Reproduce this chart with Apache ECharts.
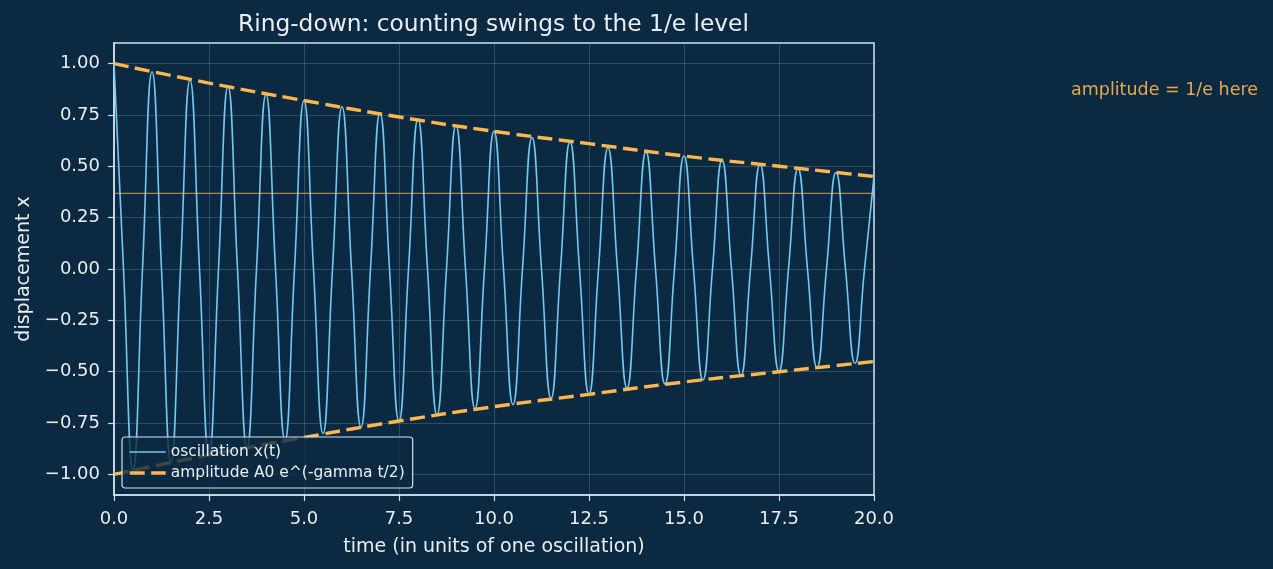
<!DOCTYPE html>
<html>
<head>
<meta charset="utf-8">
<title>Ring-down</title>
<script src="https://cdn.jsdelivr.net/npm/echarts@6/dist/echarts.min.js"></script>
<style>
html, body { margin: 0; padding: 0; background: #0b2a42; }
#ringdown { width: 1273px; height: 569px; }
</style>
</head>
<body>
<div id="ringdown"></div>
<script>
// swing maxima at whole cycles, minima at half cycles
var peakTimes = [0, 1, 2, 3, 4, 5, 6, 7, 8, 9, 10, 11, 12, 13, 14, 15, 16, 17, 18, 19, 20];
var peakValues = [1.00, 0.96, 0.92, 0.89, 0.85, 0.82, 0.79, 0.76, 0.73, 0.70, 0.67,
                  0.64, 0.62, 0.59, 0.57, 0.55, 0.53, 0.51, 0.49, 0.47, 0.45];
var troughTimes = [0.5, 1.5, 2.5, 3.5, 4.5, 5.5, 6.5, 7.5, 8.5, 9.5,
                   10.5, 11.5, 12.5, 13.5, 14.5, 15.5, 16.5, 17.5, 18.5, 19.5];
var troughValues = [-0.98, -0.94, -0.905, -0.87, -0.835, -0.80, -0.77, -0.74, -0.71, -0.68,
                    -0.66, -0.63, -0.61, -0.58, -0.56, -0.54, -0.52, -0.50, -0.48, -0.46];
// dashed envelope
var envelopeTimes = [0, 2.5, 5, 7.5, 10, 12.5, 15, 17.5, 20];
var envelopeValues = [1.00, 0.905, 0.82, 0.74, 0.67, 0.61, 0.55, 0.50, 0.45];
var oneOverE = 0.368;
var yTicks = [-1, -0.75, -0.5, -0.25, 0, 0.25, 0.5, 0.75, 1];

var oscillation = [];
for (var i = 0; i < peakTimes.length; i++) {
    oscillation.push([peakTimes[i], peakValues[i]]);
    if (i < troughTimes.length) {
        oscillation.push([(peakTimes[i] + troughTimes[i]) / 2, 0]);
        oscillation.push([troughTimes[i], troughValues[i]]);
        oscillation.push([(troughTimes[i] + peakTimes[i + 1]) / 2, 0]);
    }
}
var upper = envelopeTimes.map(function (t, k) { return [t, envelopeValues[k]]; });
var lower = envelopeTimes.map(function (t, k) { return [t, -envelopeValues[k]]; });

var fg = '#e8eef4';
var spine = '#cfe0f0';
var orange = '#ffb74d';
var blue = '#74c8f2';
var font = 'DejaVu Sans';
var envName = 'amplitude A0 e^(-gamma t/2)';

var chart = echarts.init(document.getElementById('ringdown'));
chart.setOption({
    backgroundColor: '#0b2a42',
    animation: false,
    title: {
        text: 'Ring-down: counting swings to the 1/e level',
        left: 233,
        top: 8,
        textStyle: { color: fg, fontSize: 23.3, fontWeight: 'normal', fontFamily: font }
    },
    grid: {
        left: 114, right: 399, top: 43, bottom: 74,
        show: true, borderColor: spine, borderWidth: 1.5
    },
    legend: {
        data: [
            { name: 'oscillation x(t)', lineStyle: { width: 1.6, type: 'solid' } },
            { name: envName, lineStyle: { width: 3.4, type: [15, 6.5] } }
        ],
        orient: 'vertical',
        left: 122,
        top: 437,
        itemWidth: 36,
        itemHeight: 14,
        itemGap: 5,
        padding: [7, 8, 7, 6],
        itemStyle: { opacity: 0 },
        backgroundColor: 'rgba(11,42,66,0.8)',
        borderColor: spine,
        borderWidth: 1.2,
        borderRadius: 3,
        textStyle: { color: fg, fontSize: 15.5, lineHeight: 16, fontFamily: font }
    },
    xAxis: {
        type: 'value',
        min: 0, max: 20, interval: 2.5,
        name: 'time (in units of one oscillation)',
        nameLocation: 'middle',
        nameGap: 43,
        nameTextStyle: { color: fg, fontSize: 19, fontFamily: font },
        axisLine: { show: true, onZero: false, lineStyle: { color: spine, width: 1.5 } },
        axisTick: { show: true, length: 6, lineStyle: { color: spine, width: 1.2 } },
        axisLabel: {
            color: fg, fontSize: 18, fontFamily: font, margin: 15,
            formatter: function (v) { return v.toFixed(1); }
        },
        splitLine: { show: true, lineStyle: { color: 'rgba(200,220,240,0.2)', width: 1 } }
    },
    yAxis: {
        type: 'value',
        min: -1.1, max: 1.1,
        name: 'displacement x',
        nameLocation: 'middle',
        nameGap: 80,
        nameTextStyle: { color: fg, fontSize: 19, fontFamily: font },
        axisLine: { show: true, onZero: false, lineStyle: { color: spine, width: 1.5 } },
        axisTick: { show: true, length: 6, customValues: yTicks, lineStyle: { color: spine, width: 1.2 } },
        axisLabel: {
            color: fg, fontSize: 18, fontFamily: font, margin: 14,
            customValues: yTicks,
            formatter: function (v) { return (v < 0 ? '\u2212' : '') + Math.abs(v).toFixed(2); }
        },
        splitLine: { show: true, lineStyle: { color: 'rgba(200,220,240,0.2)', width: 1 } }
    },
    graphic: [{
        type: 'text',
        left: 1071,
        top: 81,
        style: { text: 'amplitude = 1/e here', fill: orange, opacity: 0.9, font: '17.5px "DejaVu Sans"' }
    }],
    series: [
        {
            name: 'oscillation x(t)',
            type: 'line',
            data: oscillation,
            smooth: 0.5,
            symbol: 'none',
            z: 2,
            itemStyle: { color: blue },
            lineStyle: { color: blue, width: 1.6 }
        },
        {
            name: envName,
            type: 'line',
            data: upper,
            smooth: true,
            symbol: 'none',
            z: 3,
            itemStyle: { color: orange },
            lineStyle: { color: orange, width: 3.4, type: [15, 6.5] }
        },
        {
            name: envName,
            type: 'line',
            data: lower,
            smooth: true,
            symbol: 'none',
            z: 3,
            itemStyle: { color: orange },
            lineStyle: { color: orange, width: 3.4, type: [15, 6.5] }
        },
        {
            name: '1/e level',
            type: 'line',
            data: [[0, oneOverE], [20, oneOverE]],
            symbol: 'none',
            z: 4,
            lineStyle: { color: 'rgba(255,183,77,0.65)', width: 1.2 }
        }
    ]
});
</script>
</body>
</html>
